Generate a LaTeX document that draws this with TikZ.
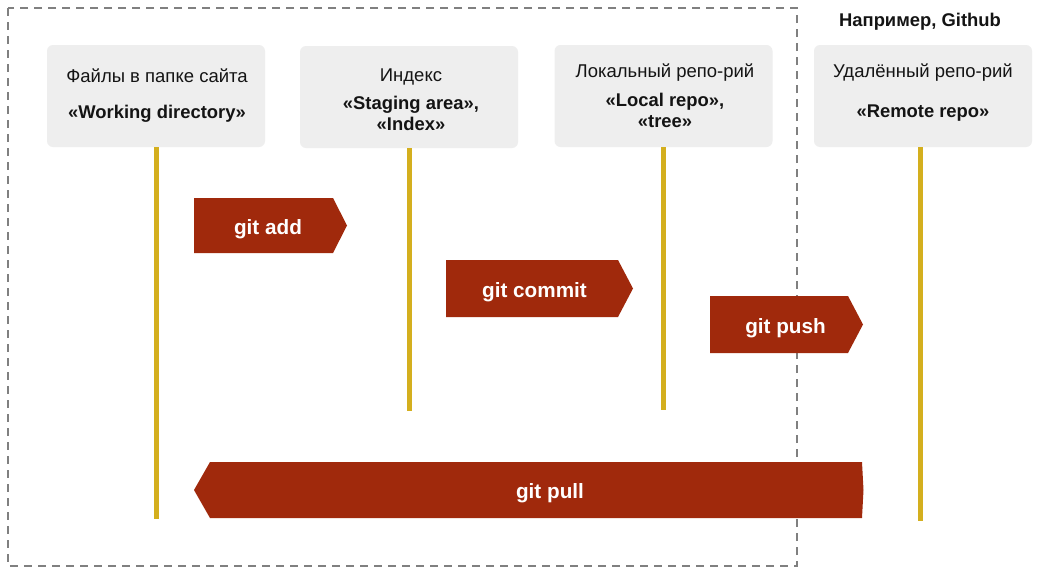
\documentclass[tikz,border=0pt]{standalone}
\usepackage{fontspec}
\setmainfont{Liberation Sans}
\definecolor{boxgray}{HTML}{EEEEEE}
\definecolor{gitred}{HTML}{A0290C}
\definecolor{lineyellow}{HTML}{D4AF1E}
\definecolor{dashgray}{HTML}{808080}
\definecolor{txt}{HTML}{141414}
\begin{document}
\begin{tikzpicture}[x=1pt,y=-1pt,
 repobox/.style={fill=boxgray, rounded corners=6pt, minimum width=218pt, minimum height=102pt, inner sep=0pt},
 lbl/.style={anchor=base, text=txt, font=\fontsize{18.5}{18.5}\selectfont, inner sep=0pt},
 lblb/.style={lbl, font=\fontsize{18.4}{18.4}\selectfont\bfseries},
 cmd/.style={anchor=base, text=white, font=\fontsize{20.7}{20.7}\selectfont\bfseries, inner sep=0pt},
 lifeline/.style={draw=lineyellow, line width=5pt},
 arrowshape/.style={fill=gitred},
 grp/.style={draw=dashgray, line width=1.3pt, dash pattern=on 8pt off 6pt}]
\useasboundingbox (0,0) rectangle (1045,576);
\fill[white] (0,0) rectangle (1045,576);

% local group
\draw[grp] (8,8) rectangle (797,566);
\node[lblb] (ex) at (920,26) {Например, Github};

% boxes
\node[repobox] (b1) at (156,96) {};
\node[repobox] (b2) at (409,97) {};
\node[repobox] (b3) at (663.5,96) {};
\node[repobox] (b4) at (923,96) {};

\node[lbl]  (t1a) at (157,82)  {Файлы в папке сайта};
\node[lblb] (t1b) at (157,118) {«Working directory»};
\node[lbl]  (t2a) at (411,81)  {Индекс};
\node[lblb] (t2b) at (411,109) {«Staging area»,};
\node[lblb] (t2c) at (411,130) {«Index»};
\node[lbl]  (t3a) at (665,77)  {Локальный репо-рий};
\node[lblb] (t3b) at (665,106) {«Local repo»,};
\node[lblb] (t3c) at (665,127) {«tree»};
\node[lbl]  (t4a) at (923,77)  {Удалённый репо-рий};
\node[lblb] (t4b) at (923,117) {«Remote repo»};

% lifelines
\coordinate (e1) at (156,519);
\coordinate (e2) at (409,411);
\coordinate (e3) at (663,410);
\coordinate (e4) at (920,521);
\draw[lifeline] (b1.south -| e1) -- (e1);
\draw[lifeline] (b2.south -| e2) -- (e2);
\draw[lifeline] (b3.south -| e3) -- (e3);
\draw[lifeline] (b4.south -| e4) -- (e4);

% commands
\fill[arrowshape] (194,198) -- (333,198) -- (347,225.5) -- (333,253) -- (194,253) -- cycle;
\node[cmd] (add) at (268,234) {git add};
\fill[arrowshape] (446,260) -- (618,260) -- (633,288.5) -- (618,317) -- (446,317) -- cycle;
\node[cmd] (commit) at (534.5,297) {git commit};
\fill[arrowshape] (710,296) -- (848,296) -- (863,324.5) -- (848,353) -- (710,353) -- cycle;
\node[cmd] (push) at (785.5,333) {git push};
\fill[arrowshape] (862,462) -- (210,462) -- (194,490) -- (210,518) -- (862,518) -- (863.5,490) -- cycle;
\node[cmd] (pull) at (550,498) {git pull};
\end{tikzpicture}
\end{document}
